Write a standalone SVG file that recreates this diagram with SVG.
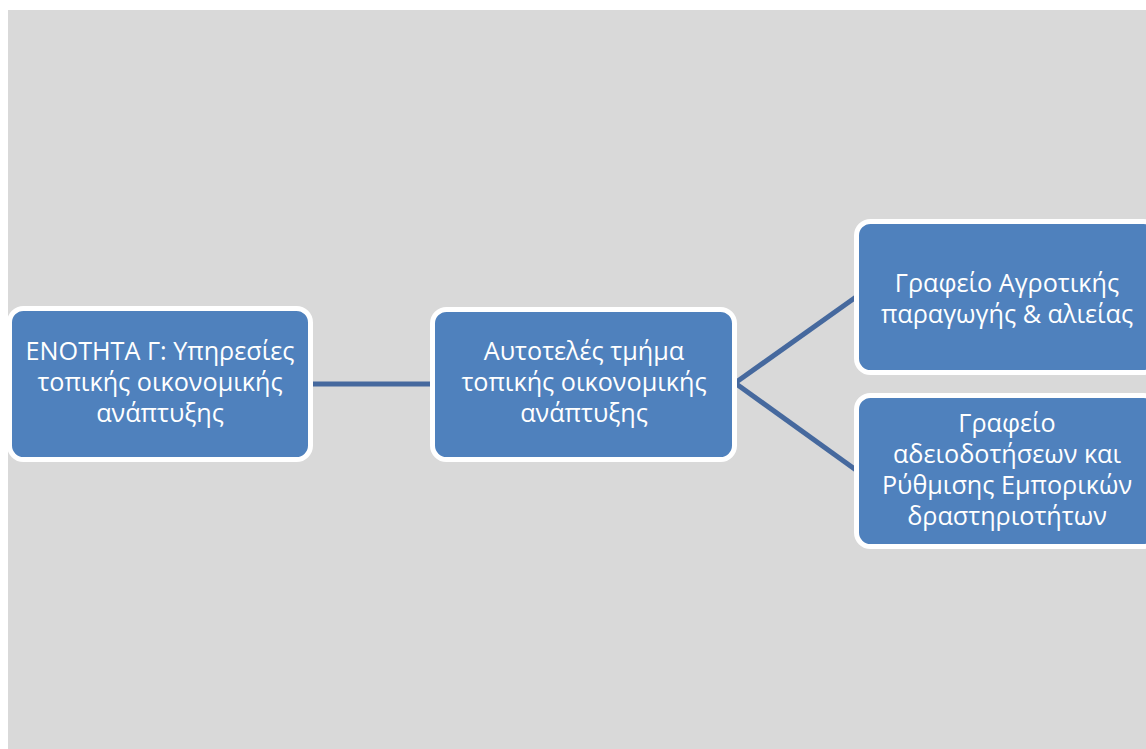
<svg xmlns="http://www.w3.org/2000/svg" width="1146" height="749" viewBox="0 0 1146 749">
<style>
.node rect{fill:#4f81bd;stroke:#ffffff;stroke-width:5}
.node text{font-family:"Open Sans","Noto Sans",sans-serif;font-size:25.2px;fill:#ffffff;text-anchor:middle}
.conn line{stroke:#46699e;stroke-width:5}
</style>
<rect x="8" y="10" width="1138" height="739" fill="#d9d9d9"/>
<g class="conn" id="connectors">
<line x1="313" y1="384" x2="432" y2="384"/>
<line x1="735" y1="383" x2="856" y2="297"/>
<line x1="735" y1="383" x2="856" y2="470"/>
</g>
<g class="node" id="n1">
<rect x="9.5" y="308.5" width="301" height="151" rx="14"/>
<text x="160" y="360">ΕΝΟΤΗΤΑ Γ: Υπηρεσίες</text>
<text x="160" y="391">τοπικής οικονομικής</text>
<text x="160" y="422">ανάπτυξης</text>
</g>
<g class="node" id="n2">
<rect x="432.5" y="309.5" width="302" height="150" rx="14"/>
<text x="584" y="360">Αυτοτελές τμήμα</text>
<text x="584" y="391">τοπικής οικονομικής</text>
<text x="584" y="422">ανάπτυξης</text>
</g>
<g class="node" id="n3">
<rect x="856.5" y="221.5" width="301" height="151" rx="14"/>
<text x="1007" y="292">Γραφείο Αγροτικής</text>
<text x="1007" y="323">παραγωγής &amp; αλιείας</text>
</g>
<g class="node" id="n4">
<rect x="856.5" y="395.5" width="301" height="151" rx="14"/>
<text x="1007" y="432">Γραφείο</text>
<text x="1007" y="463">αδειοδοτήσεων και</text>
<text x="1007" y="494">Ρύθμισης Εμπορικών</text>
<text x="1007" y="525">δραστηριοτήτων</text>
</g>
</svg>
